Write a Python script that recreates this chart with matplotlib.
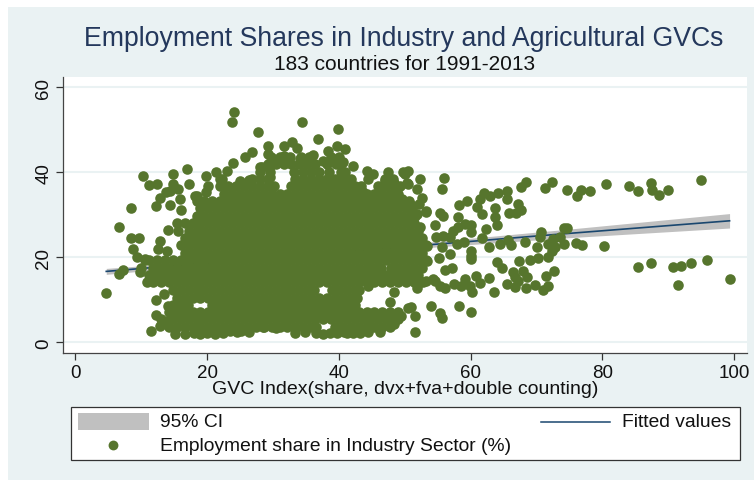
#!/usr/bin/python3
# employment shares vs GVC index scatter, stata s2color look
import matplotlib
matplotlib.use('Agg')
import matplotlib.pyplot as plt
from matplotlib.patches import Rectangle

plt.rcParams['font.family'] = ['Liberation Sans', 'DejaVu Sans']

# Points that can be told apart in the picture: around the edge of the cloud
gvc_edge = [94.9, 87.4, 87.5, 88.6, 90.0, 85.4, 84.0, 80.6, 78.1, 76.8, 76.2, 74.7, 72.4, 71.3, 68.4, 67.6,
            67.2, 67.6, 66.9, 65.9, 65.5, 65.5, 64.2, 63.0, 62.0, 61.4, 60.9, 61.7, 63.7, 63.7, 64.0, 62.3,
            59.4, 58.3, 56.0, 55.7, 55.8, 55.4, 54.6, 58.1, 60.1, 59.1, 58.1, 57.4, 56.9, 57.9, 55.8, 54.8,
            55.6, 56.9, 59.0, 60.1, 61.7, 62.8, 64.4, 65.7, 66.2, 68.3, 70.0, 70.7, 70.5, 71.8, 72.5, 73.5,
            74.2, 74.7, 74.1, 72.8, 72.3, 71.8, 70.2, 69.0, 67.4, 76.0, 76.9, 80.3, 60.1, 60.0, 60.1, 55.2,
            64.0, 64.7, 56.1, 57.1, 72.7, 71.4, 67.9, 66.5, 68.5, 66.7, 62.8, 60.8, 59.1, 61.4, 57.5, 56.1,
            54.6, 55.4, 58.6, 59.9, 60.2, 63.5, 65.5, 66.7, 67.2, 68.4, 69.8, 71.0, 71.7, 85.4, 87.4, 90.7,
            91.9, 93.5, 95.9, 99.3, 91.5, 58.2, 60.1, 54.0, 55.4, 55.6, 50.9, 51.6, 49.5, 51.5, 50.5, 52.3,
            51.9, 52.6, 53.3, 51.8, 52.3, 53.4, 53.4, 52.8, 51.8,
            24.1, 23.8, 27.8, 34.4, 39.8, 36.9, 29.3, 31.6, 32.9, 33.7, 39.7, 41.0, 38.4, 36.1, 26.8, 25.8,
            23.9, 23.1, 21.3, 16.9, 19.8, 14.9, 10.3, 11.2, 12.4, 17.3, 20.2, 14.9, 14.4, 15.6, 12.8, 13.8,
            15.9, 12.2, 14.4, 16.1, 8.4, 6.7, 8.4, 9.6, 8.8, 9.3, 10.6, 14.0, 12.8, 12.6, 13.9, 7.3, 6.7,
            4.7, 9.8, 10.9, 12.4, 13.4, 13.5, 12.3, 12.3, 14.1, 11.5, 12.8, 13.9, 15.1, 16.6, 18.0, 18.9,
            20.0, 21.2, 22.4, 23.5, 24.5, 25.2, 26.3, 28.5, 30.5, 33.3, 34.8, 36.6, 37.6, 38.7, 39.7, 40.8,
            41.2, 42.2, 43.2, 44.5, 46.2, 48.3, 49.3, 50.5, 48.4, 47.7, 44.5, 42.2, 44.2, 47.5, 49.8, 44.5,
            22.0, 25.0, 28.0, 18.2,
            22.2, 22.5, 26.3, 29.5, 28.3, 29.5, 30.0, 29.3, 31.6, 34.1, 37.6, 38.9, 40.7, 45.2, 47.0, 48.3,
            48.7, 50.3, 50.0, 42.7, 43.7, 46.2, 18.4, 19.9, 50.0, 49.3, 50.5, 49.6, 50.8, 52.1, 51.3, 53.3,
            50.3, 51.3, 52.3, 53.3, 54.3]
emp_edge = [38.2, 37.4, 35.9, 34.7, 35.9, 35.7, 36.7, 37.3, 35.6, 35.9, 34.5, 35.8, 37.8, 36.4, 37.8, 36.6,
            32.5, 31.1, 30.4, 30.4, 35.5, 33.7, 35.1, 34.5, 35.1, 33.7, 31.8, 30.2, 31.5, 29.4, 27.5, 26.7,
            33.3, 32.4, 38.6, 36.1, 29.8, 30.4, 27.6, 29.4, 27.5, 27.8, 27.1, 26.3, 24.7, 23.1, 25.1, 24.7,
            22.4, 20.8, 23.5, 25.9, 24.5, 22.4, 23.1, 24.2, 22.9, 23.5, 22.4, 26.0, 24.7, 23.1, 24.3, 24.9,
            26.8, 26.9, 23.1, 22.4, 21.6, 20.0, 19.8, 19.4, 19.2, 23.3, 22.9, 22.6, 21.6, 20.4, 19.5, 19.8,
            18.8, 17.4, 17.1, 17.4, 16.9, 15.5, 16.9, 16.5, 15.3, 15.3, 15.1, 15.5, 14.9, 14.0, 13.7, 12.7,
            14.5, 13.2, 13.2, 13.3, 11.8, 11.9, 13.7, 13.1, 14.5, 12.9, 13.5, 12.3, 13.3, 17.7, 18.7, 17.8,
            17.9, 18.7, 19.4, 14.8, 13.6, 8.6, 7.2, 8.6, 6.8, 5.7, 8.4, 6.3, 6.3, 2.5, 40.4, 38.4,
            36.2, 33.9, 30.8, 30.2, 27.1, 22.7, 19.2, 14.1, 12.9,
            54.3, 51.8, 49.6, 51.8, 50.1, 47.9, 46.3, 46.3, 47.1, 45.7, 46.3, 45.6, 45.1, 44.1, 44.9, 43.5,
            42.2, 40.4, 40.2, 40.9, 39.2, 39.5, 39.1, 37.1, 37.3, 37.3, 36.9, 37.3, 35.7, 36.1, 33.9, 35.3,
            33.7, 32.2, 32.3, 31.2, 31.5, 27.1, 24.5, 24.5, 22.0, 20.0, 19.6, 26.4, 23.9, 22.0, 21.6, 17.1, 16.2,
            11.5, 16.5, 14.3, 16.5, 15.7, 11.4, 9.9, 6.5, 8.6, 2.7, 3.9, 5.1, 2.0, 2.0, 2.2, 2.0,
            2.3, 2.0, 2.2, 2.6, 2.4, 2.7, 2.4, 3.5, 3.3, 2.2, 2.4, 2.2, 2.0, 2.2, 2.2, 2.4,
            2.2, 2.3, 2.2, 2.4, 2.5, 4.3, 6.3, 8.2, 11.9, 9.6, 13.2, 41.6, 40.4, 40.0, 40.0, 38.4,
            38.4, 38.0, 41.2, 34.5,
            38.4, 36.9, 38.2, 38.8, 41.2, 41.4, 43.1, 44.3, 43.9, 43.1, 42.7, 43.1, 42.4, 39.6, 38.0, 37.6,
            35.3, 37.6, 32.0, 35.3, 35.3, 34.9, 34.5, 35.3, 39.6, 36.9, 37.3, 33.7, 32.5, 32.5, 30.6, 30.6,
            16.5, 15.3, 14.1, 14.5, 14.9]

# Middle of the cloud: the points overlap into a solid mass and cannot be read one by one,
# these are hand placed estimates, band by band, that follow its outline and holes
emp_core = [3.7, 5.4, 7.1, 8.8, 10.5, 12.3, 14.1, 15.9, 17.6, 19.3, 21.0, 22.8, 24.5, 26.3, 28.0, 29.8, 31.5,
            33.2, 35.0, 36.7, 38.4, 40.1, 41.9, 43.6]
gvc_core = [
    [14.2, 15.4, 16.6, 17.8, 19.0, 20.2, 21.4, 22.6, 23.8, 25.0, 26.2, 27.4, 28.6, 29.8, 31.0, 32.2, 33.4, 34.6, 35.8, 36.6, 39.4, 40.6, 41.8, 43.0, 44.2, 45.4, 46.6, 47.8],
    [13.0, 14.8, 16.0, 17.2, 18.4, 19.6, 20.8, 22.0, 23.2, 24.4, 25.6, 26.8, 28.0, 29.2, 30.4, 31.6, 32.8, 34.0, 35.2, 36.4, 37.6, 38.8, 40.0, 41.2, 42.4, 43.6, 44.8, 46.0, 47.2, 48.4, 49.0],
    [14.2, 15.4, 16.6, 17.8, 19.0, 20.2, 21.4, 22.6, 23.8, 25.0, 26.2, 27.4, 28.6, 29.8, 31.0, 32.2, 33.4, 34.6, 35.8, 37.0, 38.2, 39.4, 40.6, 41.8, 43.0, 44.2, 45.4, 46.6, 47.8, 49.0],
    [14.8, 16.0, 17.1, 20.8, 22.0, 23.2, 24.4, 25.6, 26.8, 28.0, 29.2, 30.4, 31.6, 32.8, 34.0, 35.2, 36.4, 37.6, 38.8, 40.0, 41.2, 42.4],
    [15.4, 16.6, 17.8, 19.0, 20.2, 21.4, 22.6, 23.8, 25.0, 26.2, 27.4, 28.6, 29.8, 31.0, 32.2, 33.4, 34.6, 35.8, 37.0, 38.2, 39.4, 40.6, 41.8, 42.7],
    [14.8, 16.0, 17.2, 18.4, 19.6, 20.8, 22.0, 23.2, 24.4, 25.6, 26.8, 28.0, 29.2, 30.4, 31.6, 32.8, 34.0, 35.2, 36.2, 39.0, 40.0, 41.2, 42.4, 43.0],
    [11.8, 13.0, 14.2, 15.4, 16.6, 17.8, 19.0, 20.2, 21.4, 22.6, 23.8, 25.0, 26.2, 27.4, 28.6, 29.8, 31.0, 32.2, 33.4, 34.6, 35.8, 37.0, 38.2, 39.4, 40.6, 41.8, 43.0, 44.2, 45.4, 46.6, 47.8, 49.0, 50.2, 51.4],
    [11.2, 12.4, 13.6, 14.8, 16.0, 17.2, 18.4, 19.6, 20.8, 22.0, 23.2, 24.4, 25.6, 26.8, 28.0, 29.2, 30.4, 31.6, 32.8, 34.0, 35.2, 36.4, 37.6, 38.8, 40.0, 41.2, 42.4, 43.6, 44.8, 46.0, 47.2, 48.4, 49.6, 50.8, 52.0],
    [10.0, 11.8, 13.0, 14.2, 15.4, 16.6, 17.8, 19.0, 20.2, 21.4, 22.6, 23.8, 25.0, 26.2, 27.4, 28.6, 29.8, 31.0, 32.2, 33.4, 34.6, 35.8, 37.0, 38.2, 39.4, 40.6, 41.8, 43.0, 44.2, 45.4, 46.4, 47.9, 49.0, 50.2, 51.4, 52.6],
    [10.6, 11.2, 12.4, 13.6, 14.8, 16.0, 17.2, 18.4, 19.6, 20.8, 22.0, 23.2, 24.4, 25.6, 26.8, 28.0, 29.2, 30.4, 31.6, 32.8, 34.0, 35.2, 36.4, 37.6, 38.8, 40.0, 41.2, 42.4, 43.6, 44.8, 46.0, 47.2, 48.4, 49.6, 50.8, 52.0, 53.2],
    [16.6, 17.8, 19.0, 20.2, 21.4, 22.6, 23.8, 25.0, 26.2, 27.4, 28.6, 29.8, 31.0, 32.2, 33.4, 34.6, 35.8, 37.0, 38.2, 39.4, 40.6, 41.8, 43.0, 44.2, 45.4, 46.6, 47.8, 49.0, 50.2, 51.4, 52.6],
    [16.0, 17.2, 18.4, 19.6, 20.8, 22.0, 23.2, 24.4, 25.6, 26.8, 28.0, 29.2, 30.4, 31.6, 32.8, 34.0, 35.2, 36.4, 37.6, 38.8, 40.0, 41.2, 42.4, 43.6, 44.8, 46.0, 47.2, 48.4, 49.6, 50.8, 52.0, 53.2],
    [16.6, 17.8, 19.0, 20.2, 21.4, 22.6, 23.8, 25.0, 26.2, 27.4, 28.6, 29.8, 31.0, 32.2, 33.4, 34.6, 35.8, 37.0, 38.2, 39.4, 40.6, 41.8, 43.0, 44.2, 45.4, 46.6, 47.8, 49.0, 50.2, 51.4, 52.6],
    [15.6, 17.2, 18.4, 19.6, 20.8, 22.0, 23.2, 24.4, 25.6, 26.8, 28.0, 29.2, 30.4, 31.6, 32.8, 34.0, 35.2, 36.4, 37.6, 38.8, 40.0, 41.2, 42.4, 43.6, 44.8, 46.0, 47.2, 48.4, 49.6, 50.8, 52.0],
    [15.4, 16.6, 17.8, 19.0, 20.2, 21.4, 22.6, 23.8, 25.0, 26.2, 27.4, 28.6, 29.8, 31.0, 32.2, 33.4, 34.6, 35.8, 37.0, 38.2, 39.4, 40.6, 41.8, 43.0, 44.2, 45.4, 46.6, 47.8, 49.0, 50.2, 51.4],
    [18.4, 19.6, 20.8, 22.0, 23.2, 24.4, 25.6, 26.8, 28.0, 29.2, 30.4, 31.6, 32.8, 34.0, 35.2, 36.4, 37.6, 38.8, 40.0, 41.2, 42.4, 43.6, 44.8, 46.0, 47.2, 48.4, 49.6, 50.8, 51.6],
    [19.0, 20.2, 21.4, 22.6, 23.8, 25.0, 26.2, 27.4, 28.6, 29.8, 31.0, 32.2, 33.4, 34.6, 35.8, 37.0, 38.2, 39.4, 40.6, 41.8, 43.0, 44.2, 45.4, 46.6, 47.8, 49.0, 50.2, 51.0],
    [18.4, 19.6, 20.8, 22.0, 23.2, 24.4, 25.6, 26.8, 28.0, 29.2, 30.4, 31.6, 32.8, 34.0, 35.2, 36.4, 37.6, 38.8, 40.0, 41.2, 42.4, 43.6, 44.8, 46.0, 47.2, 48.4, 49.6, 50.6],
    [22.6, 23.8, 25.0, 26.2, 27.4, 28.6, 29.8, 31.0, 32.2, 33.4, 34.6, 35.8, 37.0, 38.2, 39.4, 40.6, 41.8, 43.0, 44.2, 45.4, 46.6, 47.8, 49.0],
    [22.0, 23.2, 24.4, 25.6, 26.8, 28.0, 29.2, 30.1, 32.8, 34.0, 35.2, 36.4, 37.6, 38.8, 40.0, 41.2, 42.4, 43.3, 46.0, 47.2, 48.4],
    [26.8, 28.0, 29.2, 33.4, 34.6, 35.8, 37.0, 38.2, 39.4, 40.6, 41.8, 47.0, 48.2],
    [28.0, 29.6, 33.2, 34.5, 35.8, 37.0, 38.5, 40.3, 41.0],
    [29.2, 30.4, 31.6, 32.8, 34.0, 35.2, 36.4, 38.2, 39.5, 40.4],
    [29.7, 31.0, 32.6, 34.2, 35.4, 38.8, 40.0],
]

# fitted line and 95% band, read at a few x positions
fit_gvc = [4.7, 35.0, 74.6, 99.3]
fit_emp = [16.7, 20.6, 25.6, 28.6]
fit_low = [16.0, 20.3, 24.6, 26.9]
fit_high = [17.4, 20.9, 26.6, 30.3]

x_ticks = [0, 20, 40, 60, 80, 100]
y_ticks = [0, 20, 40, 60]

navy = '#1a476f'
green = '#56752d'
band = '#eaf2f3'
gray = '#c0c0c0'
W, H = 754, 481

fig = plt.figure(figsize=(W / 100, H / 100), dpi=100, facecolor='white')

# outer light blue panel
bg = fig.add_axes([0, 0, 1, 1])
bg.set_xlim(0, W)
bg.set_ylim(H, 0)
bg.axis('off')
bg.add_patch(Rectangle((8, 8), W - 8, H - 8, facecolor=band, edgecolor='none'))

# main plot, placed in pixels
left, right, top, bottom = 63.3, 746.7, 77.5, 354
ax = fig.add_axes([left / W, 1 - bottom / H, (right - left) / W, (bottom - top) / H])
ax.set_facecolor('white')
ax.set_xlim(-1.82, 101.9)
ax.set_ylim(-2.5, 62.55)
ax.fill_between(fit_gvc, fit_low, fit_high, color=gray, lw=0, zorder=2)
ax.plot(fit_gvc, fit_emp, color=navy, lw=1.2, zorder=3)

# spread the bands out into plain x/y lists
gvc_all = list(gvc_edge)
emp_all = list(emp_edge)
for emp, row in zip(emp_core, gvc_core):
    gvc_all += row
    emp_all += [emp] * len(row)
ax.scatter(gvc_all, emp_all, s=58, color=green, linewidths=0, zorder=4)

ax.set_xticks(x_ticks)
ax.set_yticks(y_ticks)
ax.grid(axis='y', color=band, lw=1.5, zorder=0)
ax.set_axisbelow(True)
ax.tick_params(length=5, width=0.9, color='#333333', labelsize=13.5, labelcolor='#111111', pad=3)
plt.setp(ax.get_yticklabels(), rotation=90, va='center')
for s in ['top', 'right']:
    ax.spines[s].set_visible(False)
for s in ['left', 'bottom']:
    ax.spines[s].set_color('#444444')
    ax.spines[s].set_linewidth(0.9)

# titles and x label
bg.text(404, 39, 'Employment Shares in Industry and Agricultural GVCs', color='#24385c', fontsize=19.2, ha='center', va='center')
bg.text(404.5, 64.5, '183 countries for 1991-2013', color='#111111', fontsize=15, ha='center', va='center')
bg.text(405, 390, 'GVC Index(share, dvx+fva+double counting)', color='#111111', fontsize=14, ha='center', va='center')

# legend drawn by hand, same layout as stata
bg.add_patch(Rectangle((70.5, 407.5), 669, 53, facecolor='white', edgecolor='#333333', lw=0.9, zorder=3))
bg.add_patch(Rectangle((78, 414), 70.5, 17, facecolor=gray, edgecolor='none', zorder=4))
bg.plot([541, 610], [423, 423], color=navy, lw=1.1, zorder=4)
bg.scatter([113], [446], s=50, color=green, linewidths=0, zorder=4)
bg.text(160, 423, '95% CI', color='#111111', fontsize=13.85, va='center', zorder=4)
bg.text(622, 423, 'Fitted values', color='#111111', fontsize=13.85, va='center', zorder=4)
bg.text(160, 446.5, 'Employment share in Industry Sector (%)', color='#111111', fontsize=13.85, va='center', zorder=4)

fig.savefig('out.png', dpi=100, facecolor='white')
